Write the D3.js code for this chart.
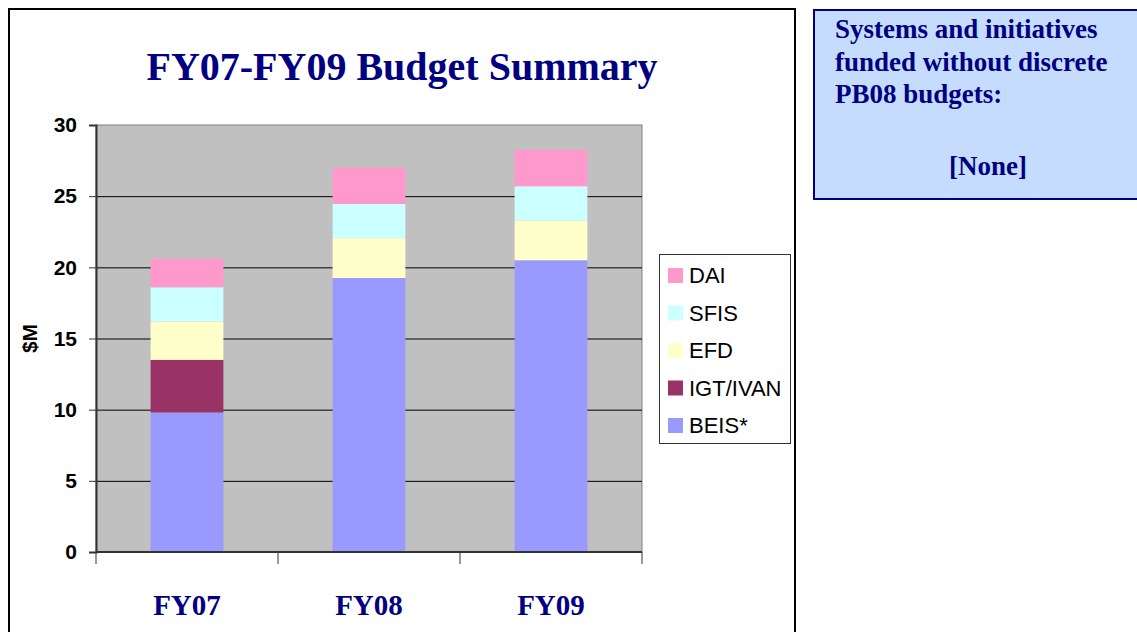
<!DOCTYPE html>
<html>
<head>
<meta charset="utf-8">
<script src="https://cdn.jsdelivr.net/npm/d3@7"></script>
<style>
  html, body { margin: 0; padding: 0; background: #fff; }
</style>
</head>
<body>
<div id="chart"></div>
<script>
const categories = ["FY07", "FY08", "FY09"];
const seriesKeys = ["BEIS*", "IGT/IVAN", "EFD", "SFIS", "DAI"];
const beisValues = [9.8, 19.25, 20.5];
const igtValues = [3.7, 0, 0];
const efdValues = [2.7, 2.8, 2.8];
const sfisValues = [2.4, 2.4, 2.4];
const daiValues = [2.0, 2.55, 2.55];
const yTicks = [0, 5, 10, 15, 20, 25, 30];
const legendOrder = ["DAI", "SFIS", "EFD", "IGT/IVAN", "BEIS*"];
const sideNoteLines = ["Systems and initiatives", "funded without discrete", "PB08 budgets:"];
const sideNoteValue = "[None]";

const seriesColors = {
  "BEIS*": "#9999ff",
  "IGT/IVAN": "#993366",
  "EFD": "#ffffcc",
  "SFIS": "#ccffff",
  "DAI": "#ff99cc"
};

const width = 1137;
const height = 632;
const plotLeft = 96;
const plotRight = 642;
const plotTop = 125;
const plotBottom = 552;
const navy = "#000080";
const serif = "'Liberation Serif', 'DejaVu Serif', serif";
const sans = "'Liberation Sans', Arial, sans-serif";

const table = categories.map((c, i) => ({
  category: c,
  "BEIS*": beisValues[i],
  "IGT/IVAN": igtValues[i],
  "EFD": efdValues[i],
  "SFIS": sfisValues[i],
  "DAI": daiValues[i]
}));

const series = d3.stack().keys(seriesKeys)(table);

const svg = d3.create("svg")
  .attr("width", width)
  .attr("height", height)
  .attr("viewBox", [0, 0, width, height]);

// outer frame round the chart
svg.append("rect")
  .attr("x", 9).attr("y", 9)
  .attr("width", 786).attr("height", 640)
  .attr("fill", "#fff")
  .attr("stroke", "#000")
  .attr("stroke-width", 2);

svg.append("text")
  .attr("x", 402)
  .attr("y", 80)
  .attr("text-anchor", "middle")
  .attr("font-family", serif)
  .attr("font-weight", "bold")
  .attr("font-size", 40)
  .attr("fill", navy)
  .text("FY07-FY09 Budget Summary");

const x = d3.scaleBand()
  .domain(categories)
  .range([plotLeft, plotRight])
  .paddingInner(0.6)
  .paddingOuter(0.3);

const y = d3.scaleLinear()
  .domain([0, 30])
  .range([plotBottom, plotTop]);

// plot background
svg.append("rect")
  .attr("x", plotLeft).attr("y", plotTop)
  .attr("width", plotRight - plotLeft)
  .attr("height", plotBottom - plotTop)
  .attr("fill", "#c0c0c0")
  .attr("stroke", "#808080")
  .attr("stroke-width", 1);

// gridlines
svg.append("g")
  .selectAll("line")
  .data(yTicks.filter((d) => d > 0 && d < 30))
  .join("line")
  .attr("x1", plotLeft).attr("x2", plotRight)
  .attr("y1", (d) => y(d) + 0.5).attr("y2", (d) => y(d) + 0.5)
  .attr("stroke", "#000")
  .attr("stroke-width", 1);

// bars
svg.append("g")
  .selectAll("g")
  .data(series)
  .join("g")
  .attr("fill", (d) => seriesColors[d.key])
  .selectAll("rect")
  .data((d) => d)
  .join("rect")
  .attr("x", (d) => x(d.data.category))
  .attr("width", x.bandwidth())
  .attr("y", (d) => y(d[1]))
  .attr("height", (d) => y(d[0]) - y(d[1]));

// y axis
const yAxis = svg.append("g")
  .attr("transform", `translate(${plotLeft},0)`)
  .call(d3.axisLeft(y).tickValues(yTicks).tickSize(7).tickPadding(12));

yAxis.select(".domain").attr("stroke", "#333").attr("stroke-width", 2);
yAxis.selectAll(".tick line").attr("stroke", "#333");
yAxis.selectAll(".tick text")
  .attr("font-family", sans)
  .attr("font-weight", "bold")
  .attr("font-size", 21)
  .attr("fill", "#000");

// x axis line and category boundary ticks
const step = x.step();
const boundaries = [0, 1, 2, 3].map((i) => plotLeft + i * step);

svg.append("line")
  .attr("x1", plotLeft).attr("x2", plotRight)
  .attr("y1", plotBottom).attr("y2", plotBottom)
  .attr("stroke", "#333")
  .attr("stroke-width", 2);

svg.append("g")
  .selectAll("line")
  .data(boundaries)
  .join("line")
  .attr("x1", (d) => d).attr("x2", (d) => d)
  .attr("y1", plotBottom).attr("y2", plotBottom + 12)
  .attr("stroke", "#333");

svg.append("g")
  .selectAll("text")
  .data(categories)
  .join("text")
  .attr("x", (d) => x(d) + x.bandwidth() / 2)
  .attr("y", 615)
  .attr("text-anchor", "middle")
  .attr("font-family", serif)
  .attr("font-weight", "bold")
  .attr("font-size", 29)
  .attr("fill", navy)
  .text((d) => d);

svg.append("text")
  .attr("transform", `translate(37,${(plotTop + plotBottom) / 2}) rotate(-90)`)
  .attr("text-anchor", "middle")
  .attr("font-family", sans)
  .attr("font-weight", "bold")
  .attr("font-size", 21)
  .text("$M");

// legend
const legend = svg.append("g").attr("transform", "translate(659,254)");

legend.append("rect")
  .attr("x", 0.5).attr("y", 0.5)
  .attr("width", 131).attr("height", 189)
  .attr("fill", "#fff")
  .attr("stroke", "#333");

const legendItems = legend.selectAll("g")
  .data(legendOrder)
  .join("g")
  .attr("transform", (d, i) => `translate(9,${14 + i * 37.5})`);

legendItems.append("rect")
  .attr("width", 15).attr("height", 15)
  .attr("fill", (d) => seriesColors[d]);

legendItems.append("text")
  .attr("x", 21)
  .attr("y", 15)
  .attr("font-family", sans)
  .attr("font-size", 22)
  .attr("fill", "#000")
  .text((d) => d);

// side note box
svg.append("rect")
  .attr("x", 814).attr("y", 10)
  .attr("width", 340).attr("height", 189)
  .attr("fill", "#c5dcff")
  .attr("stroke", navy)
  .attr("stroke-width", 2);

svg.append("g")
  .selectAll("text")
  .data(sideNoteLines)
  .join("text")
  .attr("x", 835)
  .attr("y", (d, i) => 38 + i * 32.5)
  .attr("font-family", serif)
  .attr("font-weight", "bold")
  .attr("font-size", 27)
  .attr("fill", navy)
  .text((d) => d);

svg.append("text")
  .attr("x", 988)
  .attr("y", 175)
  .attr("text-anchor", "middle")
  .attr("font-family", serif)
  .attr("font-weight", "bold")
  .attr("font-size", 27)
  .attr("fill", navy)
  .text(sideNoteValue);

document.getElementById("chart").appendChild(svg.node());
</script>
</body>
</html>
